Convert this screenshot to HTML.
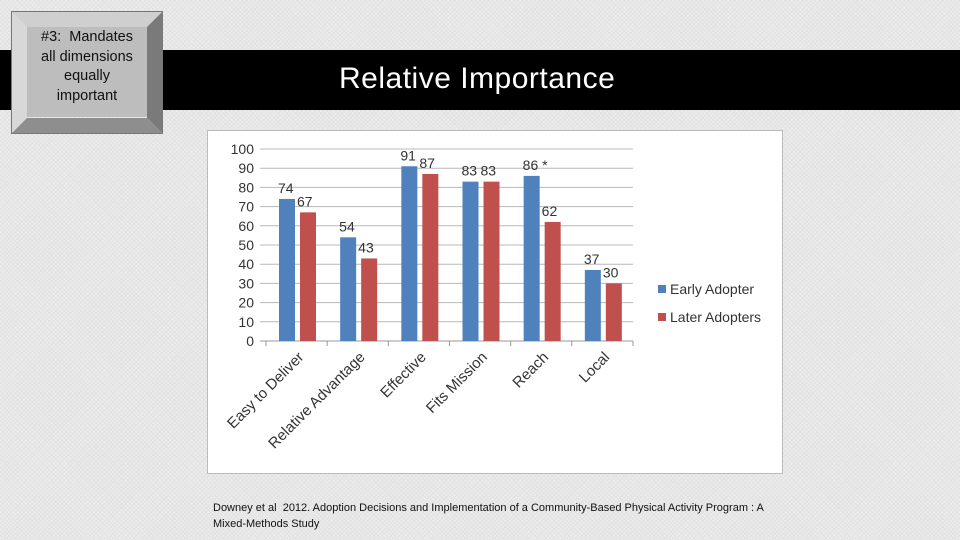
<!DOCTYPE html>
<html><head><meta charset="utf-8"><style>
body{margin:0;width:960px;height:540px;overflow:hidden;font-family:"Liberation Sans",sans-serif;
background:#ececec;background-image:repeating-linear-gradient(45deg,#e2e2e2 0 1px,transparent 1px 3px),repeating-linear-gradient(-45deg,#e2e2e2 0 1px,transparent 1px 3px);position:relative}
.banner{position:absolute;left:0;top:50px;width:960px;height:60px;background:#000}
.title{position:absolute;left:339px;top:62px;color:#fff;font-size:30px;letter-spacing:0.5px}
.box{position:absolute;left:11px;top:11px;width:152px;height:123px}
.box .txt{position:absolute;left:16px;top:16px;width:120px;height:90px;background:#bdbdbd;text-align:center;font-size:14.5px;line-height:19.5px;color:#111;padding:1px 2px 0;box-sizing:border-box}
.chart{position:absolute;left:207px;top:130px;width:574px;height:342px;background:#fff;border:1px solid #bbb}
.cite{position:absolute;left:213px;top:500px;font-size:11px;line-height:16px;color:#111;width:600px;white-space:nowrap}
</style></head><body>
<div class="banner"></div>
<div class="title">Relative Importance</div>
<div class="box">
<svg width="152" height="123" style="position:absolute;left:0;top:0">
<polygon points="0,0 152,0 136,16 16,16" fill="#cfcfcf"/>
<polygon points="0,0 16,16 16,107 0,123" fill="#d8d8d8"/>
<polygon points="152,0 152,123 136,107 136,16" fill="#7a7a7a"/>
<polygon points="0,123 152,123 136,107 16,107" fill="#8e8e8e"/>
<rect x="0.5" y="0.5" width="151" height="122" fill="none" stroke="#777"/>
</svg>
<div class="txt">#3:&nbsp; Mandates<br>all dimensions<br>equally<br>important</div>
</div>
<div class="chart"><svg id="svg" width="574" height="342"></svg></div>
<div class="cite">Downey et al&nbsp; 2012. Adoption Decisions and Implementation of a Community-Based Physical Activity Program : A<br>Mixed-Methods Study</div>
<script>
const categories=["Easy to Deliver","Relative Advantage","Effective","Fits Mission","Reach","Local"];
const early=[74,54,91,83,86,37];
const later=[67,43,87,83,62,30];
const earlyLabels=["74","54","91","83","86 *","37"];
const ticks=[0,10,20,30,40,50,60,70,80,90,100];
const svg=document.getElementById('svg');const NS='http://www.w3.org/2000/svg';
const ox=207,oy=130;
const x0=265-ox,x1=632-ox,gw=(x1-x0)/categories.length;
const y=v=>340-oy-v*1.92;
function mk(t,a,txt){const e=document.createElementNS(NS,t);for(const k in a)e.setAttribute(k,a[k]);if(txt!==undefined)e.textContent=txt;svg.appendChild(e);return e;}
ticks.forEach(t=>{const g=mk('line',{x1:x0-6,x2:x1,y1:y(t),y2:y(t),stroke:t?'#b8b8b8':'#999'});

const l=mk('text',{x:x0-12,y:y(t)+5,'text-anchor':'end','font-size':14,fill:'#333'},t);
});
for(let i=0;i<=categories.length;i++){const tk=mk('line',{x1:x0+i*gw,x2:x0+i*gw,y1:y(0),y2:y(0)+5,stroke:'#999'});}
categories.forEach((c,i)=>{const gx=x0+i*gw;
const b=mk('rect',{x:gx+13,y:y(early[i]),width:16,height:y(0)-y(early[i]),fill:'#4f81bd'});

const r=mk('rect',{x:gx+34,y:y(later[i]),width:16,height:y(0)-y(later[i]),fill:'#c0504d'});

const t1=mk('text',{x:gx+12,y:y(early[i])-6,'font-size':14,fill:'#333'},earlyLabels[i]);

const t2=mk('text',{x:gx+31,y:y(later[i])-6,'font-size':14,fill:'#333'},later[i]);

const cx=gx+gw/2+8,cy=y(0)+17;
const cl=mk('text',{x:cx,y:cy,'text-anchor':'end','font-size':15,fill:'#333',transform:`rotate(-45 ${cx} ${cy})`},c);
});
[['Early Adopter','#4f81bd',158],['Later Adopters','#c0504d',186]].forEach(([n,c,yy])=>{
const s=mk('rect',{x:450,y:yy-4,width:8,height:8,fill:c});
const t=mk('text',{x:462,y:yy+5,'font-size':14,fill:'#333'},n);});
</script>
</body></html>
